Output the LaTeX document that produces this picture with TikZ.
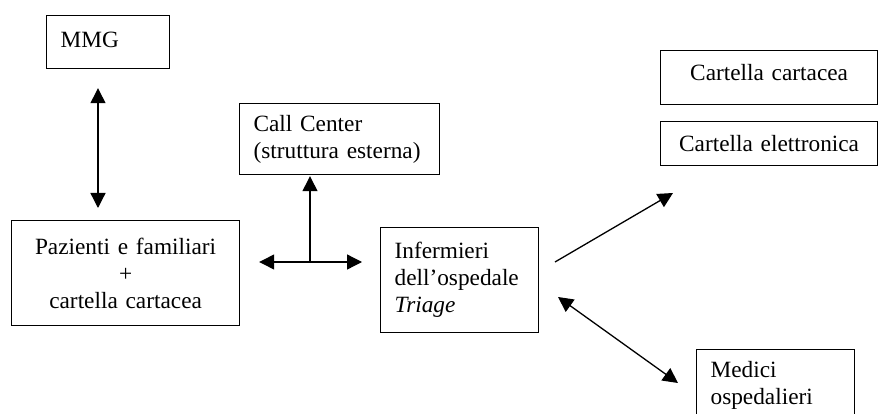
\documentclass[tikz,border=0pt]{standalone}
\usepackage{fontspec}
\setmainfont{Liberation Serif}
\usetikzlibrary{arrows.meta}
\begin{document}
\begin{tikzpicture}[x=1pt,y=-1pt,
  every node/.style={font=\fontsize{23.3}{27}\selectfont},
  box/.style={draw,line width=1.2pt,rectangle,inner xsep=14pt,inner ysep=0pt,anchor=north west},
  lbox/.style={box,align=left},
  cbox/.style={box,align=center},
  link/.style={line width=1.3pt},
  tip/.style={-{Triangle[length=15pt,width=15pt]}},
  dtip/.style={{Triangle[length=15pt,width=15pt]}-{Triangle[length=15pt,width=15pt]}}]
\useasboundingbox (0,0) rectangle (878,414);
\clip (0,0) rectangle (878,414);

% boxes
\node[lbox,minimum width=123pt,minimum height=53pt,text width=95pt] (mmg) at (46,15) {\raisebox{2pt}[\height][\depth]{MMG}};
\node[lbox,minimum width=200pt,minimum height=71pt,text width=172pt] (cc) at (239,103) {Call Center\\(struttura esterna)};
\node[cbox,minimum width=228pt,minimum height=105pt,text width=200pt] (paz) at (11,220) {Pazienti e familiari\\+\\cartella cartacea};
\node[lbox,minimum width=158pt,minimum height=105pt,text width=130pt] (inf) at (380,227) {Infermieri\\dell’ospedale\\\textit{Triage}};
\node[cbox,minimum width=217pt,minimum height=54pt,text width=189pt] (cart) at (660,50) {\raisebox{5pt}[\height][\depth]{Cartella cartacea}};
\node[cbox,minimum width=217pt,minimum height=44pt,text width=189pt] (elet) at (660,121) {Cartella elettronica};
\node[lbox,minimum width=158pt,minimum height=72pt,text width=130pt] (med) at (696,349) {Medici\\ospedalieri};

% junction and free ends
\coordinate (mx) at (98,0);
\coordinate (jn) at (310,262);
\coordinate (o1) at (555,262);
\coordinate (o2) at (673,193);
\coordinate (m1) at (558,297);
\coordinate (m2) at (678,383);

% connectors
\draw[link,dtip,shorten <=19pt,shorten >=12pt] (mmg.south -| mx) -- (paz.north -| mx);
\draw[link,dtip,shorten <=19pt,shorten >=18pt] (paz.east |- jn) -- (inf.west |- jn);
\draw[link,tip,shorten >=1pt] (jn) -- (cc.south -| jn);
\draw[link,tip] (o1) -- (o2);
\draw[link,dtip] (m1) -- (m2);
\end{tikzpicture}
\end{document}
